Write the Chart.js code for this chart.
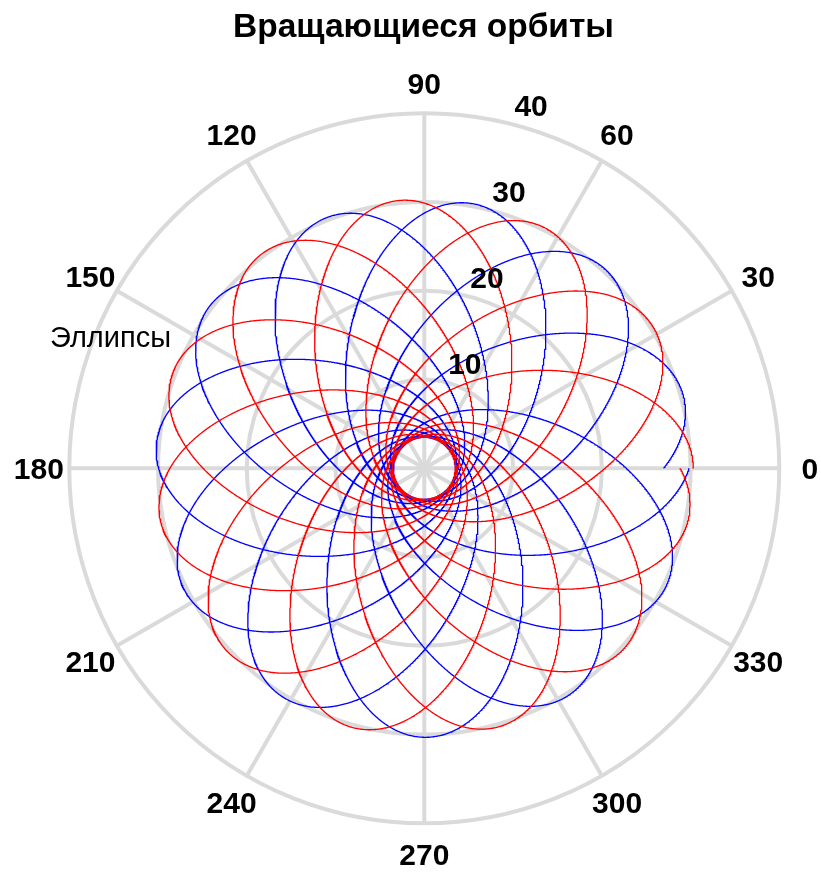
<!DOCTYPE html>
<html>
<head>
<meta charset="utf-8">
<title>Вращающиеся орбиты</title>
<script src="https://cdn.jsdelivr.net/npm/chart.js@4/dist/chart.umd.min.js"></script>
<style>
  html, body { margin: 0; padding: 0; background: #ffffff; }
  #wrap { width: 821px; height: 873px; }
</style>
</head>
<body>
<div id="wrap"><canvas id="chart" width="821" height="873"></canvas></div>
<script>
// ---- chart content ----
const TITLE = 'Вращающиеся орбиты';
const LEGEND_TEXT = 'Эллипсы';

const ORBIT_LABELS = ['Эллипсы', 'Эллипсы, сдвиг'];
const ORBIT_COLORS = ['#ff0000', '#0000ff'];
const PERIAPSIS = [3.49, 3.49];          // closest distance to the pole
const APOAPSIS = [30.31, 30.31];         // farthest distance from the pole
const APOAPSIS_DIR_DEG = [0, 15.9];      // direction of the first apoapsis
const PRECESSION_DEG = [31.8, 31.8];     // advance of the apoapsis per orbit
const REVOLUTIONS = [12, 12];            // full turns of the polar angle

const ANGLE_TICKS = [0, 30, 60, 90, 120, 150, 180, 210, 240, 270, 300, 330];
const RADIAL_TICKS = [10, 20, 30, 40];
const R_MAX = 40;
const RADIAL_LABEL_ANGLE = 75.6;

// ---- styling ----
const FONT_FAMILY = '"Liberation Sans", Arial, Helvetica, sans-serif';
const GRID_COLOR = '#dadada';
const GRID_WIDTH = 4;

function orbitTrace(i) {
  const rp = PERIAPSIS[i], ra = APOAPSIS[i];
  const e = (ra - rp) / (ra + rp);
  const p = 2 * ra * rp / (ra + rp);
  const k = 360 / (360 + PRECESSION_DEG[i]);
  const phi = APOAPSIS_DIR_DEG[i];
  const stepsPerDeg = 5;
  const n = 360 * REVOLUTIONS[i] * stepsPerDeg;
  const pts = [];
  for (let j = 0; j <= n; j++) {
    const s = j / stepsPerDeg;
    const r = p / (1 - e * Math.cos(k * (s - phi) * Math.PI / 180));
    const t = s * Math.PI / 180;
    pts.push({ x: r * Math.cos(t), y: r * Math.sin(t) });
  }
  return pts;
}

const rad = d => d * Math.PI / 180;

// polar grid, angle labels, radial labels, title and legend text
const polarFrame = {
  id: 'polarFrame',
  beforeDatasetsDraw(chart) {
    const { ctx, scales: { x, y } } = chart;
    const cx = x.getPixelForValue(0), cy = y.getPixelForValue(0);
    ctx.save();
    ctx.strokeStyle = GRID_COLOR;
    ctx.lineWidth = GRID_WIDTH;
    RADIAL_TICKS.forEach(v => {
      const rr = x.getPixelForValue(v) - cx;
      ctx.beginPath();
      ctx.arc(cx, cy, rr, 0, Math.PI * 2);
      ctx.stroke();
    });
    ctx.lineCap = 'butt';
    ANGLE_TICKS.forEach(a => {
      ctx.beginPath();
      ctx.moveTo(cx, cy);
      ctx.lineTo(x.getPixelForValue(R_MAX * Math.cos(rad(a))), y.getPixelForValue(R_MAX * Math.sin(rad(a))));
      ctx.stroke();
    });
    ctx.restore();
  },
  afterDatasetsDraw(chart) {
    const { ctx, scales: { x, y } } = chart;
    const cx = x.getPixelForValue(0), cy = y.getPixelForValue(0);
    const R = x.getPixelForValue(R_MAX) - cx;
    ctx.save();
    ctx.fillStyle = '#000000';

    // angle labels around the outer circle
    ctx.font = 'bold 30px ' + FONT_FAMILY;
    ctx.textAlign = 'center';
    ctx.textBaseline = 'alphabetic';
    ANGLE_TICKS.forEach(a => {
      const lx = cx + (R + 30.5) * Math.cos(rad(a));
      const ly = cy - (R + 30.5) * Math.sin(rad(a));
      ctx.fillText(String(a), lx, ly + 11);
    });

    // radial labels along one ray
    RADIAL_TICKS.forEach(v => {
      const px = x.getPixelForValue(v * Math.cos(rad(RADIAL_LABEL_ANGLE)));
      const py = y.getPixelForValue(v * Math.sin(rad(RADIAL_LABEL_ANGLE)));
      ctx.fillText(String(v), px + 18.5, py - 19 + 11);
    });

    // title
    ctx.font = 'bold 33.5px ' + FONT_FAMILY;
    ctx.fillText(TITLE, 423.5, 37);

    // legend entry
    ctx.font = '29px ' + FONT_FAMILY;
    ctx.textAlign = 'left';
    ctx.fillText(LEGEND_TEXT, 50, 347);
    ctx.restore();
  }
};

new Chart(document.getElementById('chart'), {
  type: 'scatter',
  data: {
    datasets: ORBIT_LABELS.map((label, i) => ({
      label,
      data: orbitTrace(i),
      showLine: true,
      borderColor: ORBIT_COLORS[i],
      backgroundColor: ORBIT_COLORS[i],
      borderWidth: 1.3,
      pointRadius: 0,
      pointHoverRadius: 0,
      fill: false,
      tension: 0
    }))
  },
  options: {
    responsive: false,
    animation: false,
    devicePixelRatio: 1,
    parsing: false,
    normalized: true,
    events: [],
    layout: { padding: { left: 69.3, right: 41.7, top: 113.3, bottom: 49.7 } },
    scales: {
      x: { type: 'linear', min: -R_MAX, max: R_MAX, display: false },
      y: { type: 'linear', min: -R_MAX, max: R_MAX, display: false }
    },
    plugins: {
      legend: { display: false },
      title: { display: false },
      tooltip: { enabled: false }
    }
  },
  plugins: [polarFrame]
});
</script>
</body>
</html>
